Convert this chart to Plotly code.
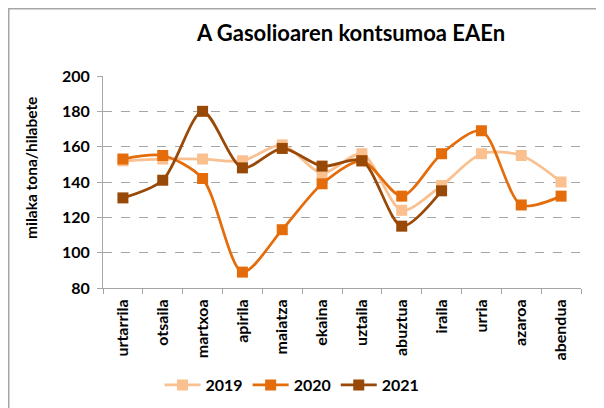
import plotly.graph_objects as go

months = ["urtarrila", "otsaila", "martxoa", "apirila", "maiatza", "ekaina",
          "uztaila", "abuztua", "iraila", "urria", "azaroa", "abendua"]

y2019 = [152, 153, 153, 152, 161, 145, 156, 124, 138, 156, 155, 140]
y2020 = [153, 155, 142, 89, 113, 139, 152, 132, 156, 169, 127, 132]
y2021 = [131, 141, 180, 148, 159, 149, 152, 115, 135]

series = [
    ("2019", y2019, "#FAC090"),
    ("2020", y2020, "#E46C0A"),
    ("2021", y2021, "#984807"),
]

fig = go.Figure()
for name, vals, col in series:
    fig.add_trace(go.Scatter(
        x=months[:len(vals)], y=vals, name="<b>" + name + "</b>", mode="lines+markers",
        line=dict(color=col, width=2.75, shape="spline", smoothing=0.8),
        marker=dict(symbol="square", size=11, color=col),
    ))

# page body has an 8px margin, so figure coords = screen coords - 8
W, H, L, B = 478, 212, 95, 280
px = lambda v: (v - L) / W
py = lambda v: (B - v) / H

fig.add_shape(type="line", xref="paper", yref="paper",
              x0=px(0), x1=px(604), y0=py(0.75), y1=py(0.75),
              line=dict(color="#A6A6A6", width=1.5))
fig.add_shape(type="line", xref="paper", yref="paper",
              x0=px(0.75), x1=px(0.75), y0=py(0), y1=py(408),
              line=dict(color="#A6A6A6", width=1.5))

# y axis title
fig.add_annotation(text="<b>milaka tona/hilabete</b>", xref="paper", yref="paper",
                   x=px(23), y=py(160), textangle=-90, showarrow=False,
                   xanchor="center", yanchor="middle", font=dict(size=15.5))

fig.update_layout(
    width=604, height=408,
    margin=dict(l=L, r=604 - L - W, t=B - H, b=408 - B),
    paper_bgcolor="white", plot_bgcolor="white",
    font=dict(family="Lato, sans-serif", color="#000000"),
    title=dict(text="<b>A Gasolioaren kontsumoa EAEn</b>", x=343 / 604, xanchor="center",
               y=1 - 25 / 408, yanchor="middle", font=dict(size=22)),
    showlegend=True,
    legend=dict(orientation="h", x=px(284), xanchor="center", y=py(377), yanchor="middle",
                font=dict(size=16), itemwidth=36, tracegroupgap=0),
)
fig.update_xaxes(
    type="category", categoryorder="array", categoryarray=months,
    range=[-0.5, 11.5], automargin=False,
    tickangle=-90, tickfont=dict(size=16), ticklabelstandoff=4,
    tickprefix="<b>", ticksuffix="</b>",
    showline=True, linecolor="#A6A6A6", linewidth=1,
    ticks="outside", tickson="boundaries", tickcolor="#A6A6A6", ticklen=5,
    showgrid=False,
)
fig.update_yaxes(
    range=[80, 200], dtick=20, automargin=False,
    tickfont=dict(size=16), tickprefix="<b>", ticksuffix="</b>", ticklabelstandoff=4,
    showline=True, linecolor="#A6A6A6", linewidth=1,
    ticks="outside", tickcolor="#A6A6A6", ticklen=5,
    showgrid=True, gridcolor="#A6A6A6", griddash="dash", gridwidth=1,
    zeroline=False,
)

fig.write_html("out.html")
